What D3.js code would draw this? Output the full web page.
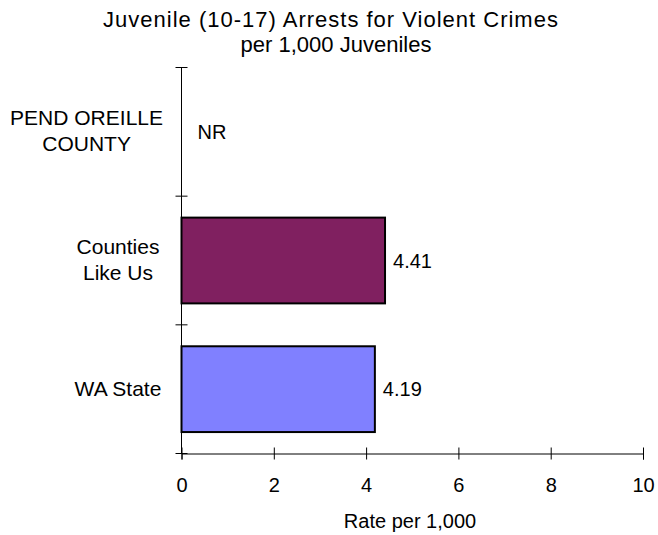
<!DOCTYPE html>
<html><head><meta charset="utf-8">
<script src="https://cdn.jsdelivr.net/npm/d3@7"></script>
<style>body{margin:0;background:#fff}svg{display:block}text{font-family:"Liberation Sans",Arial,sans-serif;fill:#000}</style>
</head><body>
<svg id="c" width="658" height="535"></svg>
<script>
const titleLines = ["Juvenile (10-17) Arrests for Violent Crimes", "per 1,000 Juveniles"];
const categories = ["PEND OREILLE COUNTY", "Counties Like Us", "WA State"];
const categoryLines = [["PEND OREILLE", "COUNTY"], ["Counties", "Like Us"], ["WA State"]];
const values = [null, 4.41, 4.19];
const valueLabels = ["NR", "4.41", "4.19"];
const barColors = ["#ffffff", "#802060", "#8080ff"];
const xTicks = [0, 2, 4, 6, 8, 10];
const xTitle = "Rate per 1,000";

const svg = d3.select("#c");
const pLeft = 181.5, pRight = 643, pTop = 67.5, pBottom = 453.5;
const x = d3.scaleLinear().domain([0, 10]).range([pLeft, pRight]);
const y = d3.scaleBand().domain(categories).range([pTop, pBottom]).paddingInner(1/3).paddingOuter(1/6);

// title
const titleX = [331, 336], titleY = [27, 52], titleLS = [1, 0];
titleLines.forEach((t, i) => {
  svg.append("text").attr("x", titleX[i]).attr("y", titleY[i]).attr("text-anchor", "middle")
    .style("font-size", "22px").style("letter-spacing", titleLS[i] + "px").text(t);
});

// bars
const g = svg.append("g");
g.selectAll("rect").data(categories.map((c, i) => ({c, v: values[i], col: barColors[i]})).filter(d => d.v != null))
  .join("rect")
  .attr("x", x(0)).attr("y", d => y(d.c))
  .attr("width", d => x(d.v) - x(0)).attr("height", y.bandwidth())
  .attr("fill", d => d.col).attr("stroke", "#000").attr("stroke-width", 2);

// value labels
g.selectAll("text.val").data(categories).join("text").attr("class", "val")
  .attr("x", (c, i) => values[i] == null ? x(0) + 16 : x(values[i]) + 8)
  .attr("y", c => y(c) + y.bandwidth() / 2).attr("dy", "0.36em")
  .style("font-size", "20px")
  .text((c, i) => valueLabels[i]);

// y axis
const step = y.step();
const gap = step - y.bandwidth();
const bounds = categories.map(c => y(c) - gap / 2).concat([y(categories[categories.length - 1]) + y.bandwidth() + gap / 2]);
svg.append("line").attr("x1", pLeft).attr("x2", pLeft).attr("y1", pTop).attr("y2", pBottom).attr("stroke", "#000");
svg.selectAll("line.yt").data(bounds).join("line").attr("class", "yt")
  .attr("x1", pLeft - 6).attr("x2", pLeft + 6).attr("y1", d => d).attr("y2", d => d).attr("stroke", "#000");

// category labels
const labelRight = 163, labelCenter = 118;
categories.forEach((c, i) => {
  const lines = categoryLines[i];
  const t = svg.append("text").style("font-size", "21px").attr("text-anchor", "middle");
  const cy = y(c) + y.bandwidth() / 2 - 1;
  const lh = 26;
  const sp = t.selectAll("tspan").data(lines).join("tspan").text(d => d);
  let maxW = 0;
  sp.each(function () { maxW = Math.max(maxW, this.getComputedTextLength()); });
  const cx = Math.min(labelCenter, labelRight - maxW / 2);
  sp.attr("x", cx).attr("y", (d, j) => cy + (j - (lines.length - 1) / 2) * lh).attr("dy", "0.36em");
});

// x axis
const xa = svg.append("g").attr("transform", `translate(0,${pBottom})`)
  .call(d3.axisBottom(x).tickValues(xTicks).tickSizeOuter(0).tickSize(6));
xa.select(".domain").attr("stroke", "#000");
xa.selectAll(".tick line").attr("y1", -6).attr("y2", 6).attr("stroke", "#000");
xa.selectAll(".tick text").attr("y", 38.5).attr("dy", 0)
  .style("font-size", "20px").style("font-family", '"Liberation Sans",Arial,sans-serif').attr("fill", "#000");

svg.append("text").attr("x", 410).attr("y", 528).attr("text-anchor", "middle")
  .style("font-size", "20px").text(xTitle);
</script>
</body></html>
